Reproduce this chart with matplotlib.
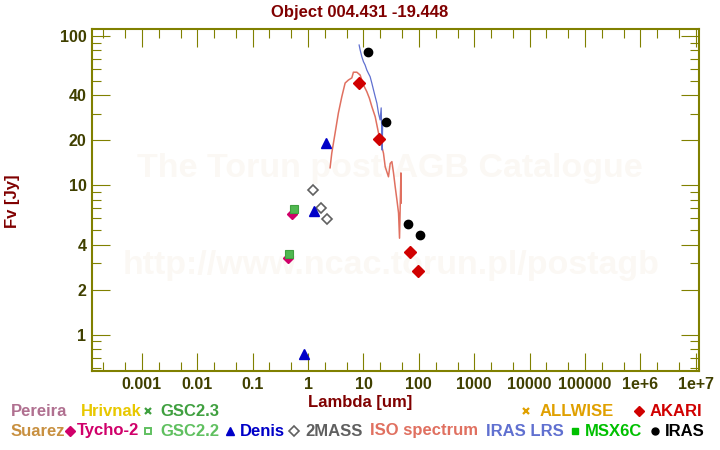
import matplotlib
matplotlib.use("Agg")
import matplotlib.pyplot as plt
from matplotlib.lines import Line2D
from matplotlib.ticker import FixedLocator, NullFormatter
import numpy as np

# ---------------- data ----------------
title = "Object 004.431 -19.448"

iso_wl = [2.50, 2.68, 3.08, 3.53, 4.07, 4.67, 5.35, 6.17, 6.59, 7.60, 8.71, 10.0, 11.5,
          12.8, 14.2, 16.3, 18.7, 21.5, 23.0, 24.7, 28.3, 30.4, 32.6, 34.9, 37.4, 40.2,
          43.0, 44.8, 47.5, 48.1]
iso_fl = [13.1, 16.4, 22.4, 30.5, 39.2, 48.4, 50.7, 52.4, 57.2, 57.2, 54.8, 47.0, 42.4,
          38.3, 33.6, 28.8, 22.4, 18.1, 16.4, 13.3, 11.4, 14.0, 14.4, 12.1, 9.79, 7.98,
          6.52, 4.42, 12.1, 7.6]

lrs_wl = [8.36, 8.72, 9.35, 10.0, 10.7, 11.5, 12.3, 13.2, 14.2, 15.2, 16.3, 17.5, 18.7,
          20.0, 20.9, 21.8, 22.2]
lrs_fl = [87.0, 80.6, 72.6, 67.3, 64.0, 59.2, 56.2, 53.4, 48.2, 43.5, 39.2, 35.4, 30.4,
          27.4, 33.0, 17.2, 25.3]

denis_wl = [2.12, 1.30, 0.86]
denis_fl = [19.2, 6.76, 0.74]

tmass_wl = [1.25, 1.74, 2.23]
tmass_fl = [9.35, 7.0, 5.92]

tycho_wl = [0.52, 0.43]
tycho_fl = [6.45, 3.24]

gsc22_wl = [0.565, 0.46]
gsc22_fl = [6.9, 3.47]

iras_wl = [12.3, 26.0, 62.5, 103.0]
iras_fl = [77.8, 26.4, 5.48, 4.62]

akari_wl = [8.4, 18.7, 68.0, 95.0]
akari_fl = [48.2, 20.4, 3.57, 2.65]

xtick_vals = [1e-3, 1e-2, 1e-1, 1, 10, 100, 1e3, 1e4, 1e5, 1e6, 1e7]
xtick_labels = ["0.001", "0.01", "0.1", "1", "10", "100", "1000", "10000", "100000",
                "1e+6", "1e+7"]
ytick_vals = [1, 2, 4, 10, 20, 40, 100]
ytick_labels = ["1", "2", "4", "10", "20", "40", "100"]

# legend rows: (label, color, marker, marker_x_px, text_x_px)
legend_row1 = [("Pereira", "#b07090", None, None, 11),
               ("Hrivnak", "#e8c800", None, None, 81),
               ("GSC2.3", "#40a040", "x", 148, 160),
               ("ALLWISE", "#e0a000", "x", 526, 540),
               ("AKARI", "#d00000", "D", 639, 650)]
legend_row2 = [("Suarez", "#c89040", None, None, 11),
               ("Tycho-2", "#d0006a", "D", 70, 77),
               ("GSC2.2", "#60c060", "s_open", 148, 160),
               ("Denis", "#0000c8", "^", 230, 240),
               ("2MASS", "#606060", "D_open", 294, 305),
               ("ISO spectrum", "#e07060", None, None, 370),
               ("IRAS LRS", "#6070d0", None, None, 486),
               ("MSX6C", "#00c000", "s", 575, 585),
               ("IRAS", "#000000", "o", 655, 665)]

# ---------------- figure ----------------
W, H = 720, 450
fig = plt.figure(figsize=(7.2, 4.5), dpi=100)
plt.rcParams['font.family'] = ['Liberation Sans', 'DejaVu Sans']

ax = fig.add_axes([92 / W, 1 - 371 / H, (699 - 92) / W, (371 - 29) / H])
ax.set_xscale('log')
ax.set_yscale('log')
ax.set_xlim(1.26e-4, 1.14e7)
ax.set_ylim(0.570, 111.4)

olive = "#808000"
labcol = "#404000"
for s in ax.spines.values():
    s.set_color(olive)
    s.set_linewidth(1.5)

ax.xaxis.set_major_locator(FixedLocator(xtick_vals))
ax.set_xticklabels(xtick_labels)
xminor = [m * 10.0 ** e for e in range(-4, 8) for m in (2, 5)]
ax.xaxis.set_minor_locator(FixedLocator(xminor))
ax.xaxis.set_minor_formatter(NullFormatter())

ax.yaxis.set_major_locator(FixedLocator(ytick_vals))
ax.set_yticklabels(ytick_labels)
yminor = [m * 10.0 ** e for e in range(-1, 3) for m in range(1, 10)
          if round(m * 10.0 ** e, 6) not in ytick_vals]
ax.yaxis.set_minor_locator(FixedLocator(yminor))
ax.yaxis.set_minor_formatter(NullFormatter())

ax.tick_params(which='both', direction='in', top=True, right=True, color=olive,
               width=0.8)
ax.tick_params(which='major', length=13)
ax.tick_params(which='minor', length=6.5)
ax.tick_params(axis='both', which='major', labelsize=11.5, labelcolor=labcol, pad=4)
for lab in ax.get_xticklabels() + ax.get_yticklabels():
    lab.set_fontweight('bold')

# watermark (behind the data)
ax.text(390 / W, 1 - 177 / H, "The Torun post-AGB Catalogue", ha='center',
        va='baseline', fontsize=24.5, fontweight='bold', color='#fbf8f4', zorder=0.5,
        transform=fig.transFigure, clip_on=False)
ax.text(391 / W, 1 - 274 / H, "http://www.ncac.torun.pl/postagb", ha='center',
        va='baseline', fontsize=24.5, fontweight='bold', color='#fbf8f4', zorder=0.5,
        transform=fig.transFigure, clip_on=False)

# data
ax.plot(iso_wl, iso_fl, color="#e07060", lw=1.1, zorder=2)
ax.plot(lrs_wl, lrs_fl, color="#6070d0", lw=0.9, zorder=2)
ax.plot(tmass_wl, tmass_fl, 'D', ms=5.5, mfc='white', mec='#606060', mew=1.2, ls='none', zorder=3)
ax.plot(tycho_wl, tycho_fl, 'D', ms=5.5, color='#d0006a', ls='none', zorder=3)
ax.plot(gsc22_wl, gsc22_fl, 's', ms=6, mfc='#50b850', mec='#40a040', mew=0.8, ls='none', zorder=4)
ax.plot(denis_wl, denis_fl, '^', ms=7, color='#0000c8', ls='none', zorder=3)
ax.plot(akari_wl, akari_fl, 'D', ms=6.5, color='#d00000', ls='none', zorder=4)
ax.plot(iras_wl, iras_fl, 'o', ms=6, color='black', ls='none', zorder=4)

# titles
fig.text(0.5, 1 - 12 / H, title, ha='center', va='center', fontsize=12,
         fontweight='bold', color='#800000')
fig.text(360 / W, 1 - 403 / H, "Lambda [um]", ha='center', va='center', fontsize=12,
         fontweight='bold', color='#800000')
fig.text(12 / W, 1 - 201 / H, "Fv [Jy]", ha='center', va='center', rotation=90,
         fontsize=12, fontweight='bold', color='#800000')

# legend
def draw_row(items, ypx):
    yf = 1 - ypx / H
    for label, col, mk, mx, tx in items:
        if mk is not None:
            kw = dict(color=col, ls='none', transform=fig.transFigure)
            if mk == 'x':
                kw.update(marker='x', ms=5, mew=1.6)
            elif mk == 'D':
                kw.update(marker='D', ms=5)
            elif mk == 's':
                kw.update(marker='s', ms=5)
            elif mk == 's_open':
                kw.update(marker='s', ms=5, mfc='white', mec=col, mew=1.4)
            elif mk == 'D_open':
                kw.update(marker='D', ms=5, mfc='white', mec=col, mew=1.2)
            elif mk == '^':
                kw.update(marker='^', ms=6)
            elif mk == 'o':
                kw.update(marker='o', ms=5)
            fig.add_artist(Line2D([mx / W], [yf], **kw))
        fig.text(tx / W, yf, label, ha='left', va='center', fontsize=12,
                 fontweight='bold', color=col)

draw_row(legend_row1, 411)
draw_row(legend_row2, 431)

fig.savefig("out.png", dpi=100)
